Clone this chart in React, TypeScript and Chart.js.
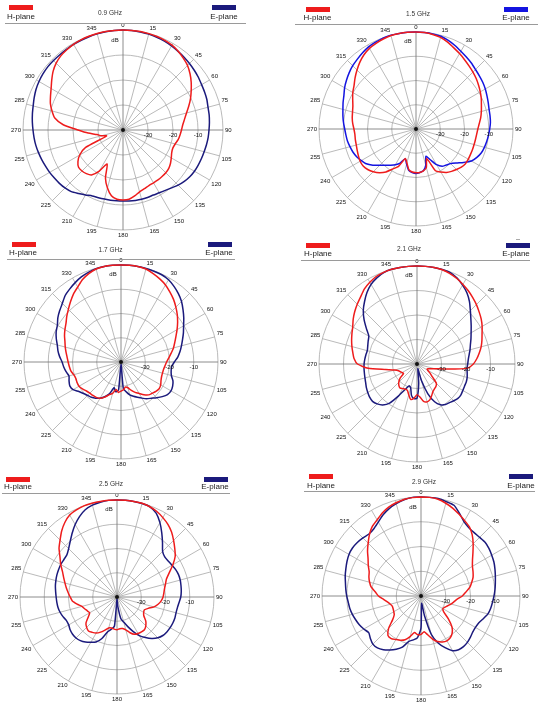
import React, { useEffect, useRef } from 'react';
import { Chart, registerables } from 'chart.js';

Chart.register(...registerables);

// ---------- DATA ----------
const ANGLES = [
  0, 5, 10, 15, 20, 25, 30, 35, 40, 45, 50, 55,
  60, 65, 70, 75, 80, 85, 90, 95, 100, 105, 110, 115,
  120, 125, 130, 135, 140, 145, 150, 155, 160, 165, 170, 175,
  180, 185, 190, 195, 200, 205, 210, 215, 220, 225, 230, 235,
  240, 245, 250, 255, 260, 265, 270, 275, 280, 285, 290, 295,
  300, 305, 310, 315, 320, 325, 330, 335, 340, 345, 350, 355,
];
const TICK_VALUES = [-30, -20, -10];
const TITLES = ['0.9 GHz', '1.5 GHz', '1.7 GHz', '2.1 GHz', '2.5 GHz', '2.9 GHz'];
const SERIES_NAMES = ['H-plane', 'E-plane'];

const H_09 = [
  0, 0, 0, -0.1, -0.2, -0.4, -0.8, -1.5, -2.5, -3.5, -5, -6.7,
  -8.5, -10.2, -12, -13.7, -15, -16, -16.6, -17.1, -17.6, -18.4, -18.8, -18.5,
  -17.7, -16.8, -16.1, -15.8, -15.7, -15.6, -15.6, -15.5, -15, -14.4, -13.2, -12.2,
  -12, -12.2, -13.3, -16, -19.5, -25, -21, -18, -17.2, -16.8, -16.8, -18,
  -20, -23.5, -33, -31, -29.5, -26, -22, -16, -12.3, -10.6, -9.1, -8,
  -6.8, -5.2, -3.5, -2.2, -1.3, -0.8, -0.4, -0.2, -0.1, 0, 0, 0,
];
const E_09 = [
  0, 0, -0.2, -0.3, -0.5, -0.8, -1.2, -1.6, -2, -2.4, -2.8, -3.2,
  -3.7, -4, -4.3, -4.8, -5, -5.3, -5.6, -5.8, -6.1, -6.4, -6.6, -6.8,
  -7, -7.4, -8, -8.8, -9.8, -10.5, -11, -11.3, -11.3, -11.3, -11.4, -11.5,
  -11.6, -11.6, -11.5, -11.4, -11.2, -10.9, -10, -9, -7.8, -7.2, -6.8, -6.5,
  -6.1, -5.8, -5.4, -5, -4.6, -4.3, -4, -3.6, -3.2, -2.8, -2.2, -1.6,
  -1.2, -0.9, -0.7, -0.7, -0.7, -0.6, -0.5, -0.4, -0.3, -0.2, -0.1, 0,
];

const H_15 = [
  0, -0.1, -0.4, -0.9, -1.9, -3.1, -4.1, -5.1, -6, -6.8, -7.6, -8.5,
  -9.4, -10.3, -11.3, -12.1, -12.9, -13.8, -14.5, -14.9, -15.1, -15.2, -15.2, -15.2,
  -15.1, -15.1, -15.6, -16.4, -17.2, -18.1, -19.5, -21, -27, -23.5, -22.5, -22,
  -22, -22.2, -23, -25.5, -27, -23, -21, -18.4, -16.5, -15.1, -14, -13.4,
  -13.4, -13.8, -14.2, -14.5, -14.6, -14.7, -14.4, -13.8, -13.3, -12.9, -12.3, -11.2,
  -9.9, -8.8, -7.2, -5.6, -4, -2.6, -1.6, -1, -0.5, -0.1, 0, 0,
];
const E_15 = [
  0, -0.1, -0.2, -0.4, -1.1, -2, -3, -3.8, -4.5, -5.3, -5.9, -6.4,
  -7, -7.7, -8.3, -8.8, -9, -9.2, -9.6, -10, -10.4, -10.8, -11.3, -12.3,
  -13.6, -16, -18.2, -19.8, -20.6, -21.2, -23, -26, -28, -24.5, -22.5, -22,
  -21.7, -22, -22.7, -25, -27, -24.5, -23, -21.8, -20.5, -18.8, -16.8, -15,
  -14, -13, -12.3, -11.8, -11.3, -11, -10.6, -10, -9.4, -8.8, -8, -7.2,
  -6, -5, -4, -3.1, -2.4, -1.6, -0.9, -0.5, -0.1, 0, 0, 0,
];

const H_17 = [
  0, 0, 0, -0.3, -1.2, -2.2, -3.3, -4.8, -6.3, -8, -9.7, -11.5,
  -13.3, -15, -16.4, -17.6, -19, -20.2, -21.2, -21.8, -22.2, -22.3, -22.2, -21.8,
  -21.1, -20.8, -21.2, -21.8, -22.3, -23.5, -25, -26.2, -27.5, -29, -29.5, -28.5,
  -28, -27.4, -28.5, -26.6, -25.6, -24, -22.7, -22.2, -22, -21.8, -21.4, -20.6,
  -20, -20, -20.2, -19.8, -19, -18.6, -18.2, -17.7, -17, -16.2, -15.4, -14.3,
  -13.3, -12.3, -10.8, -9.3, -7.6, -5.8, -4.3, -2.5, -1.2, -0.3, 0, 0,
];
const E_17 = [
  0, 0, 0, -0.1, -0.2, -0.3, -0.8, -1.9, -3.2, -4.7, -6.6, -8.4,
  -10.2, -11.6, -13, -14.2, -15.3, -16.5, -18, -19, -19, -18.5, -17.2, -16.5,
  -16.2, -16.6, -17.8, -19.2, -20.5, -21.5, -22.8, -24, -25, -26, -27.5, -29,
  -39, -28.5, -27.5, -29, -26, -24.2, -22.8, -21.8, -21, -20.5, -19.8, -18.8,
  -17.2, -16.7, -17.2, -17.8, -17, -16.3, -15.7, -14.6, -13.6, -12.8, -11.6, -10.5,
  -9.7, -8.2, -7, -5.8, -4.2, -3.2, -2.2, -1.3, -0.7, -0.2, 0, 0,
];

const H_21 = [
  0, 0, 0, -0.2, -0.7, -1.5, -2.5, -3.5, -4.6, -5.7, -6.9, -8,
  -9.3, -10.7, -11.8, -12.9, -14.2, -15.5, -17, -19.5, -28, -32.7, -34.4, -35.4,
  -35, -33.5, -31.8, -28.8, -28, -27.6, -27, -25.8, -24.5, -24, -24.5, -26.5,
  -27.5, -26, -25.3, -27, -28.5, -28.7, -28.4, -28, -28.5, -29.5, -31, -33.3,
  -33, -32.5, -32, -30.5, -27, -20, -15.7, -14.2, -13.4, -12.5, -11.6, -10.7,
  -9.7, -8.2, -6.8, -5.5, -4.2, -2.6, -1.5, -0.6, -0.2, 0, 0, 0,
];
const E_21 = [
  0, 0, 0, -0.1, -0.3, -1.3, -2.8, -4.5, -6.7, -9.2, -11.3, -13,
  -14.5, -15.7, -16.8, -17.6, -18.4, -19, -19.3, -19.5, -19.2, -18.8, -18.6, -18.6,
  -18.4, -18.1, -18.2, -18.8, -19.4, -19.8, -20.8, -23, -27, -33, -38, -32,
  -26, -25.8, -27, -30, -30.5, -28.5, -25, -20.5, -18.2, -17, -16.3, -16.4,
  -16.8, -17.2, -17.7, -18, -18.2, -18.3, -18.4, -18.6, -18.8, -19, -18.6, -18,
  -17.3, -14.8, -11.8, -9, -6.7, -4.4, -2.5, -1.2, -0.3, 0, 0, 0,
];

const H_25 = [
  0, 0, 0, 0, -0.4, -1.1, -2.2, -3.4, -5, -7, -8.9, -10.7,
  -13.4, -16.2, -18.3, -19.3, -20.1, -20.6, -21, -21.7, -22.8, -24.2, -26.3, -27.5,
  -27.3, -26.5, -24.5, -23.2, -22.4, -22.4, -22.6, -23, -24.3, -26, -26.8, -26.9,
  -26.5, -26.7, -27, -26.8, -25.5, -24, -22.8, -22.2, -21.7, -22.3, -23.3, -25.5,
  -27, -26.5, -25.8, -25, -23.3, -21.5, -20.7, -19.8, -18.8, -17.8, -16.6, -15.2,
  -13.2, -11.3, -8.8, -6.8, -4.5, -2.5, -1, -0.4, 0, 0, 0, 0,
];
const E_25 = [
  0, 0, 0, -0.1, -0.4, -1.8, -4.6, -7.8, -10.8, -13.4, -14.3, -14.2,
  -13.8, -13.3, -13, -13, -13.2, -13.4, -13.7, -14.3, -14.7, -14.8, -14.6, -14.6,
  -14.7, -14.9, -15.3, -16.2, -17.7, -19.6, -21.6, -24.4, -27, -29.3, -31, -36,
  -39, -28, -26.5, -25.2, -21.8, -19.5, -18.4, -17.3, -16.5, -16.1, -16.1, -16.4,
  -17, -17, -16.3, -15.7, -15.3, -15.1, -14.9, -14.6, -14.2, -13.9, -13.6, -13.4,
  -13.2, -13.2, -13, -11.8, -10, -7.8, -5.5, -3.4, -1.7, -0.8, -0.3, 0,
];

const H_29 = [
  0, 0, -0.3, -1.2, -2.3, -3.6, -4.8, -5.9, -7.8, -10.2, -12.6, -14.6,
  -16, -16.8, -17.6, -18.8, -20, -21.8, -23.3, -25.3, -26.5, -27.5, -28.5, -29.3,
  -29.8, -28.8, -25.5, -22.3, -20.4, -19.4, -19.1, -19.5, -20.4, -22, -24, -25.5,
  -24.5, -24.3, -25, -23, -21.2, -20.3, -19.7, -19, -19.2, -21.5, -25, -26.8,
  -27.3, -27.6, -27.7, -27.2, -26.2, -24.8, -22.8, -21.5, -19.6, -18.5, -17.6, -16.9,
  -15.4, -13.9, -11.8, -9.8, -7.6, -5.7, -4.5, -3, -1.8, -1, -0.4, -0.1,
];
const E_29 = [
  0, 0, 0, -0.5, -1, -3.2, -5.3, -6.3, -6.6, -6.5, -6.2, -6.5,
  -7, -7.5, -8.2, -8.9, -9.5, -10, -10.5, -11, -11.4, -12, -13.2, -14.3,
  -14.6, -14.5, -14, -13.5, -13.3, -13.5, -14.5, -17, -19.8, -24, -32, -37,
  -27, -23, -22, -21, -18, -16.3, -14.8, -13.5, -12.6, -12.5, -13.3, -14.2,
  -13.3, -12.5, -11.9, -11.3, -10.8, -10.5, -10, -9.5, -9, -8.3, -7.7, -7,
  -6.4, -6.2, -6.4, -6.8, -7.3, -6.8, -5.5, -3.8, -2.4, -1.4, -0.5, 0,
];

const H_SERIES = [H_09, H_15, H_17, H_21, H_25, H_29];
const E_SERIES = [E_09, E_15, E_17, E_21, E_25, E_29];

// ---------- STYLE / LAYOUT ----------
const RED = '#ee1c1c';
const NAVY = '#1b1a7c';
const BRIGHT_BLUE = '#1414e0';
const E_COLORS = [NAVY, BRIGHT_BLUE, NAVY, NAVY, NAVY, NAVY];
const FONT = '"Liberation Sans", Arial, Helvetica, sans-serif';
const MARGIN = 14;

type Layout = {
  cx: number; cy: number; R: number;
  rb: [number, number]; ht: [number, number]; tt: [number, number];
  bb: [number, number]; et: [number, number]; line: [number, number, number];
  dash?: [number, number];
};

const LAYOUTS: Layout[] = [
  { cx: 123, cy: 130, R: 100, rb: [9, 5], ht: [21, 16.5], tt: [110, 12.7], bb: [212, 5], et: [224, 16.5], line: [5, 246, 23] },
  { cx: 416, cy: 129, R: 97, rb: [306, 7], ht: [317.5, 18], tt: [418, 14], bb: [504, 7], et: [516, 18], line: [295, 538, 24] },
  { cx: 121, cy: 362, R: 97, rb: [12, 242], ht: [23, 253], tt: [110.5, 250], bb: [208, 242], et: [219, 253], line: [7, 235, 259] },
  { cx: 417, cy: 364, R: 98, rb: [306, 242.5], ht: [318, 254], tt: [409, 249.3], bb: [505.5, 243], et: [516, 254], line: [301, 530, 260], dash: [516, 239] },
  { cx: 117, cy: 597, R: 97, rb: [6, 477], ht: [18, 487], tt: [111, 484], bb: [204, 477], et: [215, 487], line: [2, 230, 493] },
  { cx: 421, cy: 596, R: 99, rb: [309, 474], ht: [321, 486], tt: [424, 481.7], bb: [509, 474], et: [521, 486], line: [304, 535, 491] },
];

const polarDecor = {
  id: 'polarDecor',
  afterDraw(chart: any) {
    const s = chart.scales.r;
    const ctx = chart.ctx as CanvasRenderingContext2D;
    const labels = chart.data.labels as number[];
    ctx.save();
    ctx.fillStyle = '#111';
    ctx.font = `6px ${FONT}`;
    for (let i = 0; i < labels.length; i++) {
      const a = Number(labels[i]);
      if (a % 15 !== 0) continue;
      const p = s.getPointPosition(i, s.drawingArea + 2);
      ctx.textAlign = a === 0 || a === 180 ? 'center' : a < 180 ? 'left' : 'right';
      ctx.textBaseline = a === 90 || a === 270 ? 'middle' : a < 90 || a > 270 ? 'bottom' : 'top';
      ctx.fillText(String(a), p.x, p.y);
    }
    const i90 = labels.indexOf(90);
    ctx.textAlign = 'center';
    ctx.textBaseline = 'top';
    for (const v of TICK_VALUES) {
      const p = s.getPointPosition(i90, s.getDistanceFromCenterForValue(v));
      ctx.fillText(String(v), p.x, p.y + 2);
    }
    ctx.textBaseline = 'middle';
    ctx.fillText('dB', s.xCenter - 8, s.yCenter - s.drawingArea * 0.9);
    ctx.beginPath();
    ctx.arc(s.xCenter, s.yCenter, 2, 0, Math.PI * 2);
    ctx.fill();
    ctx.restore();
  },
};

function PolarPanel({ idx }: { idx: number }) {
  const ref = useRef<HTMLCanvasElement>(null);
  const L = LAYOUTS[idx];
  const size = 2 * (L.R + MARGIN);
  const left = Math.round(L.cx - L.R - MARGIN);
  const top = Math.round(L.cy - L.R - MARGIN);

  useEffect(() => {
    if (!ref.current) return;
    const chart = new Chart(ref.current, {
      type: 'radar',
      data: {
        labels: ANGLES,
        datasets: [
          {
            label: SERIES_NAMES[0],
            data: H_SERIES[idx],
            borderColor: RED,
            borderWidth: 1.5,
            pointRadius: 0,
            fill: false,
            tension: 0.2,
          },
          {
            label: SERIES_NAMES[1],
            data: E_SERIES[idx],
            borderColor: E_COLORS[idx],
            borderWidth: 1.5,
            pointRadius: 0,
            fill: false,
            tension: 0.2,
          },
        ],
      },
      options: {
        animation: false,
        responsive: false,
        maintainAspectRatio: false,
        layout: { padding: MARGIN },
        plugins: { legend: { display: false }, tooltip: { enabled: false }, title: { display: false } },
        scales: {
          r: {
            min: -40,
            max: 0,
            ticks: { display: false, stepSize: 10 },
            grid: {
              circular: true,
              color: (c: any) => (c.index === 0 ? 'rgba(0,0,0,0)' : '#a8a8a8'),
              lineWidth: 0.8,
            },
            angleLines: {
              display: true,
              color: (c: any) => (ANGLES[c.index] % 90 === 0 ? '#6e6e6e' : '#a8a8a8'),
              lineWidth: (c: any) => (ANGLES[c.index] % 15 === 0 ? 0.8 : 0),
            },
            pointLabels: { display: false },
          },
        },
      },
      plugins: [polarDecor],
    } as any);
    return () => chart.destroy();
  }, [idx]);

  const txt = (pos: [number, number], text: string, fs: number, color: string) => (
    <span
      style={{
        position: 'absolute', left: pos[0], top: pos[1], transform: 'translate(-50%, -50%)',
        fontSize: fs, fontFamily: FONT, color, whiteSpace: 'nowrap', lineHeight: 1,
      }}
    >
      {text}
    </span>
  );

  return (
    <>
      <canvas
        ref={ref}
        width={size}
        height={size}
        style={{ position: 'absolute', left, top, width: size, height: size }}
      />
      <div style={{ position: 'absolute', left: L.rb[0], top: L.rb[1], width: 24, height: 5, background: RED }} />
      <div style={{ position: 'absolute', left: L.bb[0], top: L.bb[1], width: 24, height: 5, background: E_COLORS[idx] }} />
      {L.dash && (
        <div style={{ position: 'absolute', left: L.dash[0], top: L.dash[1], width: 4, height: 0, borderTop: '1px solid #aaa' }} />
      )}
      {txt(L.ht, SERIES_NAMES[0], 8, '#222')}
      {txt(L.et, SERIES_NAMES[1], 8, '#222')}
      {txt(L.tt, TITLES[idx], 6.5, '#333')}
      <div
        style={{
          position: 'absolute', left: L.line[0], top: L.line[2], width: L.line[1] - L.line[0], height: 0,
          borderTop: '1px solid #9a9a9a',
        }}
      />
    </>
  );
}

export default function App() {
  return (
    <div
      style={{
        position: 'absolute', left: 0, top: 0, width: 544, height: 708,
        background: '#fff', overflow: 'hidden',
      }}
    >
      {TITLES.map((_, i) => (
        <PolarPanel key={i} idx={i} />
      ))}
    </div>
  );
}
